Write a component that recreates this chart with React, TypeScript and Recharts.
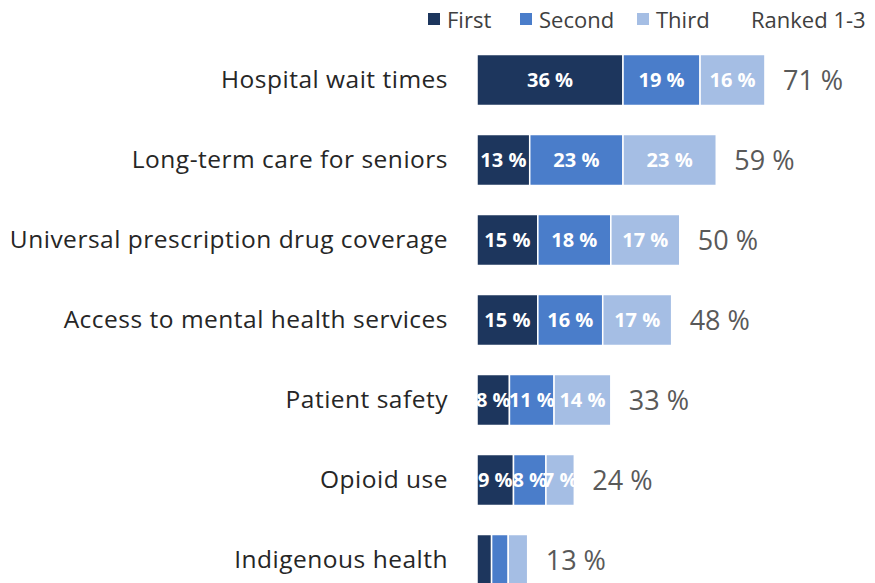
import React from "react";
import { BarChart, Bar, XAxis, YAxis, LabelList } from "recharts";

const categories = [
  "Hospital wait times",
  "Long-term care for seniors",
  "Universal prescription drug coverage",
  "Access to mental health services",
  "Patient safety",
  "Opioid use",
  "Indigenous health",
];
const first = [36, 13, 15, 15, 8, 9, 3.6];
const second = [19, 23, 18, 16, 11, 8, 4.1];
const third = [16, 23, 17, 17, 14, 7, 4.8];
const ranked = [71, 59, 50, 48, 33, 24, 13];

const seriesNames = ["First", "Second", "Third", "Ranked 1-3"];
const colors = ["#1d365d", "#4a7dca", "#a5bee4"];
// left edge of each legend item, in px
const legendLeft = [428, 520, 637, 751];

const data = categories.map((name, i) => ({
  name,
  first: first[i],
  second: second[i],
  third: third[i],
  ranked: ranked[i],
}));

const FONT = "'Open Sans', sans-serif";

function CategoryTick(props: any) {
  const { x, y, payload } = props;
  return (
    <text
      x={x}
      y={y}
      dy={8}
      textAnchor="end"
      fontSize={24.5}
      letterSpacing={0.5}
      fill="#262626"
      fontFamily={FONT}
    >
      {payload.value}
    </text>
  );
}

function InsideLabel(props: any) {
  const { x, y, width, height, value } = props;
  if (width < 20) return null;
  return (
    <text
      x={x + width / 2}
      y={y + height / 2}
      dy={7}
      textAnchor="middle"
      fontSize={20}
      fontWeight="bold"
      fill="#ffffff"
      fontFamily={FONT}
    >
      {Math.round(value)} %
    </text>
  );
}

function TotalLabel(props: any) {
  const { x, y, width, height, index } = props;
  return (
    <text
      x={x + width + 18}
      y={y + height / 2}
      dy={10}
      fontSize={27}
      fill="#595959"
      fontFamily={FONT}
    >
      {ranked[index]} %
    </text>
  );
}

function ChartLegend() {
  return (
    <div style={{ position: "absolute", top: 3, left: 0, width: 875, height: 32, fontFamily: FONT, fontSize: 22, color: "#404040" }}>
      {seriesNames.map((s, i) => (
        <div key={s} style={{ position: "absolute", left: legendLeft[i], top: 0, display: "flex", alignItems: "center", height: 32 }}>
          {i < 3 && (
            <span style={{ display: "inline-block", width: 12, height: 12, background: colors[i], marginRight: 7 }} />
          )}
          <span>{s}</span>
        </div>
      ))}
    </div>
  );
}

export default function App() {
  return (
    <div style={{ position: "fixed", left: 0, top: 0, width: 875, height: 583, overflow: "hidden", background: "#fff" }}>
      <ChartLegend />
      <div style={{ position: "absolute", left: 0, top: 0 }}>
        <BarChart
          width={875}
          height={640}
          data={data}
          layout="vertical"
          margin={{ top: 40, right: 33, bottom: 40, left: 0 }}
          barCategoryGap="18%"
        >
          <XAxis type="number" domain={[0, 90]} hide />
          <YAxis
            type="category"
            dataKey="name"
            width={477}
            axisLine={false}
            tickLine={false}
            tickSize={0}
            tickMargin={29}
            tick={<CategoryTick />}
            interval={0}
          />
          <Bar dataKey="first" stackId="a" fill={colors[0]} stroke="#fff" strokeWidth={1.5} isAnimationActive={false}>
            <LabelList dataKey="first" content={<InsideLabel />} />
          </Bar>
          <Bar dataKey="second" stackId="a" fill={colors[1]} stroke="#fff" strokeWidth={1.5} isAnimationActive={false}>
            <LabelList dataKey="second" content={<InsideLabel />} />
          </Bar>
          <Bar dataKey="third" stackId="a" fill={colors[2]} stroke="#fff" strokeWidth={1.5} isAnimationActive={false}>
            <LabelList dataKey="third" content={<InsideLabel />} />
            <LabelList dataKey="third" content={<TotalLabel />} />
          </Bar>
        </BarChart>
      </div>
    </div>
  );
}
